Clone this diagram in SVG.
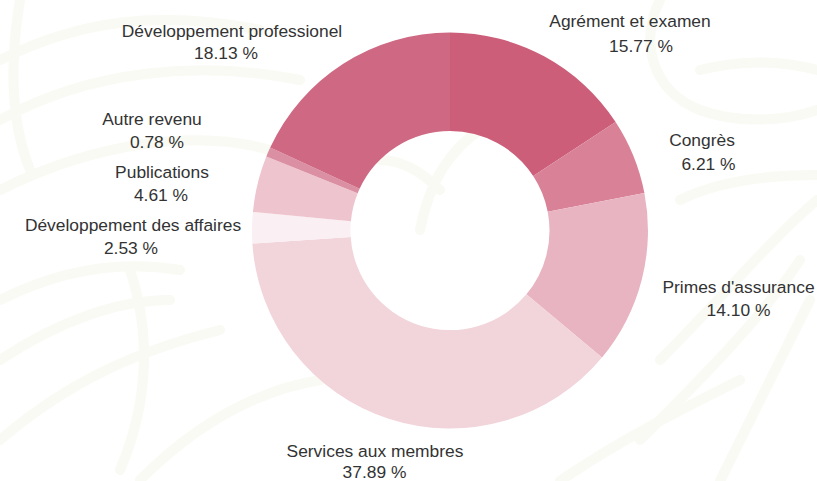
<svg xmlns="http://www.w3.org/2000/svg" width="817" height="481" viewBox="0 0 817 481">
  <style>
    .lbl { font-family: "Liberation Sans", Arial, sans-serif; font-size: 17.4px; fill: #333333; text-anchor: middle; }
    .bg { fill: none; stroke: #F8FAF3; stroke-width: 10; stroke-linecap: round; }
  </style>
  <rect x="0" y="0" width="817" height="481" fill="#FFFFFF"/>
  <g id="background">
    <path class="bg" d="M0,60 C80,20 160,10 260,30"/>
    <path class="bg" d="M0,120 C90,70 200,60 300,80"/>
    <path class="bg" d="M0,190 C100,140 200,130 270,150"/>
    <path class="bg" d="M20,0 C10,60 10,120 30,170"/>
    <path class="bg" d="M0,300 C60,270 120,260 180,270"/>
    <path class="bg" d="M130,270 C150,330 150,400 120,470"/>
    <path class="bg" d="M0,360 C60,320 120,300 170,300"/>
    <path class="bg" d="M0,440 C70,380 140,350 220,330"/>
    <path class="bg" d="M140,480 C200,420 260,390 320,380"/>
    <path class="bg" d="M660,0 C640,40 650,90 700,110 C740,125 790,120 817,110"/>
    <path class="bg" d="M700,70 C740,60 780,60 817,70"/>
    <path class="bg" d="M680,200 C720,180 770,175 817,175"/>
    <path class="bg" d="M660,360 C720,300 770,240 817,200"/>
    <path class="bg" d="M640,440 C700,380 760,320 800,260"/>
    <path class="bg" d="M720,481 C750,420 780,360 810,300"/>
    <path class="bg" d="M560,481 C620,440 680,410 740,380"/>
    <path class="bg" d="M420,230 C430,180 450,150 480,130"/>
    <path class="bg" d="M440,190 C420,170 400,160 380,160"/>
  </g>
  <g id="chart">
    <g id="slice-agrement"><path d="M450,32.5 A198,198 0 0 1 615.6,122 L533.2,176 A99.5,99.5 0 0 0 450,131 Z" fill="#CC5E7A"/></g>
    <g id="slice-congres"><path d="M615.6,122 A198,198 0 0 1 644.4,193.1 L547.7,211.7 A99.5,99.5 0 0 0 533.2,176 Z" fill="#D98297"/></g>
    <g id="slice-primes"><path d="M644.4,193.1 A198,198 0 0 1 602,357.4 L526.4,294.3 A99.5,99.5 0 0 0 547.7,211.7 Z" fill="#E8B4C1"/></g>
    <g id="slice-services"><path d="M602,357.4 A198,198 0 0 1 252.4,243.5 L350.7,237 A99.5,99.5 0 0 0 526.4,294.3 Z" fill="#F2D4DB"/></g>
    <g id="slice-dev-affaires"><path d="M252.4,243.5 A198,198 0 0 1 252.9,212 L350.9,221.2 A99.5,99.5 0 0 0 350.7,237 Z" fill="#FAEFF3"/></g>
    <g id="slice-publications"><path d="M252.9,212 A198,198 0 0 1 266.3,156.5 L357.7,193.3 A99.5,99.5 0 0 0 350.9,221.2 Z" fill="#EEC5CE"/></g>
    <g id="slice-autre"><path d="M266.3,156.5 A198,198 0 0 1 270.2,147.6 L359.6,188.8 A99.5,99.5 0 0 0 357.7,193.3 Z" fill="#DB8FA2"/></g>
    <g id="slice-dev-pro"><path d="M270.2,147.6 A198,198 0 0 1 450,32.5 L450,131 A99.5,99.5 0 0 0 359.6,188.8 Z" fill="#CF6882"/></g>
  </g>
  <g id="connectors"></g>
  <g id="labels">
    <g id="label-dev-pro"><text class="lbl" x="232" y="37">Développement professionel</text><text class="lbl" x="226" y="59">18.13 %</text></g>
    <g id="label-autre"><text class="lbl" x="152" y="125">Autre revenu</text><text class="lbl" x="157" y="148">0.78 %</text></g>
    <g id="label-publications"><text class="lbl" x="162" y="178">Publications</text><text class="lbl" x="161" y="201">4.61 %</text></g>
    <g id="label-dev-affaires"><text class="lbl" x="133" y="231">Développement des affaires</text><text class="lbl" x="131" y="254">2.53 %</text></g>
    <g id="label-agrement"><text class="lbl" x="630" y="27">Agrément et examen</text><text class="lbl" x="641" y="52">15.77 %</text></g>
    <g id="label-congres"><text class="lbl" x="702" y="146">Congrès</text><text class="lbl" x="708.5" y="170">6.21 %</text></g>
    <g id="label-primes"><text class="lbl" x="738.5" y="293">Primes d'assurance</text><text class="lbl" x="738.5" y="316">14.10 %</text></g>
    <g id="label-services"><text class="lbl" x="375" y="457">Services aux membres</text><text class="lbl" x="374.5" y="478">37.89 %</text></g>
  </g>
</svg>
